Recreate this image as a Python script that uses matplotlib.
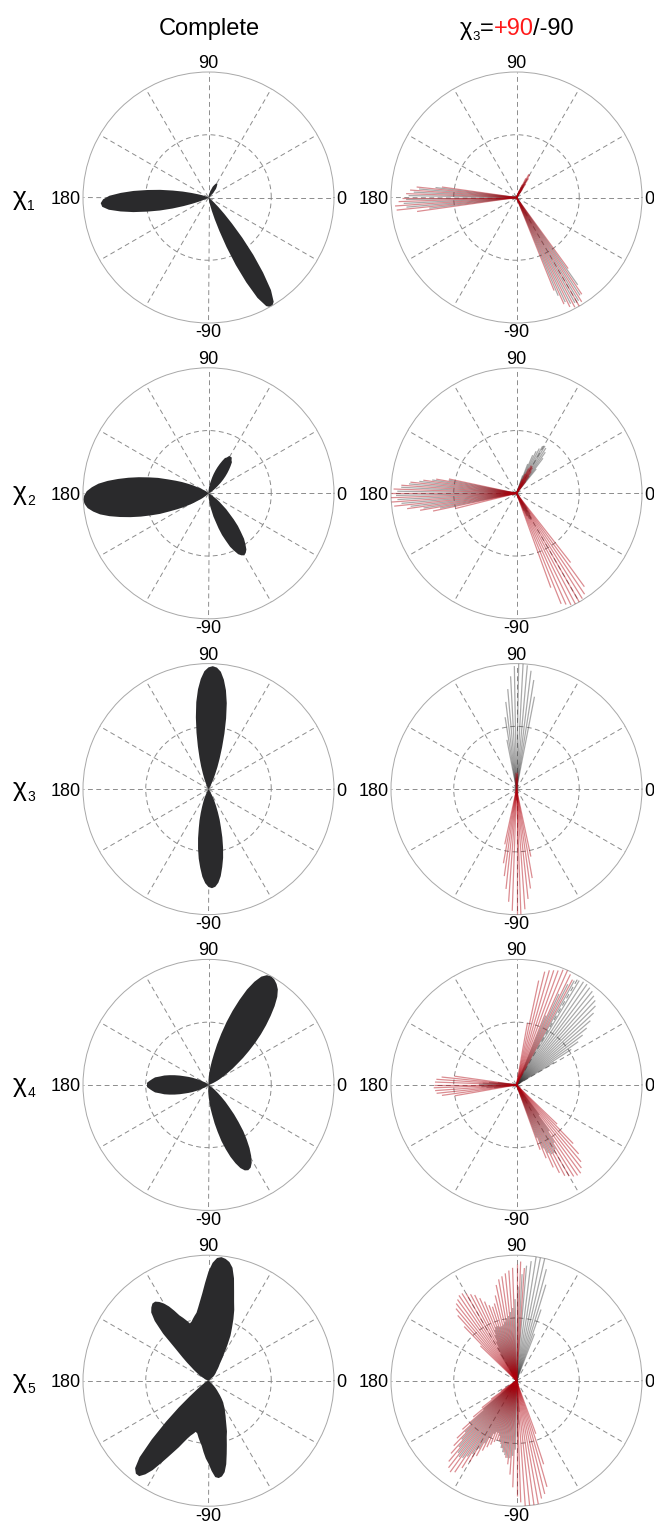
import numpy as np
import matplotlib.pyplot as plt

plt.rcParams['font.family'] = ['Liberation Sans', 'DejaVu Sans']
plt.rcParams['lines.scale_dashes'] = False

W, H = 654, 1523
STEP = 2  # degrees between samples / spokes

# ---- data: (start angle in deg, radii every STEP deg), radius 1 = outer ring ----
# left column, "Complete" distributions
chi1_complete = [
    (157, [0.02, 0.04, 0.06, 0.09, 0.14, 0.21, 0.29, 0.39, 0.49, 0.60, 0.70, 0.79, 0.84, 0.86,
           0.85, 0.80, 0.71, 0.61, 0.50, 0.40, 0.30, 0.21, 0.14, 0.09, 0.06, 0.04, 0.02]),
    (35, [0.01, 0.02, 0.03, 0.03, 0.05, 0.06, 0.07, 0.09, 0.10, 0.11, 0.12, 0.13, 0.13,
          0.13, 0.12, 0.11, 0.10, 0.09, 0.07, 0.06, 0.05, 0.03, 0.03, 0.02, 0.01]),
    (278, [0.01, 0.03, 0.06, 0.11, 0.18, 0.28, 0.42, 0.58, 0.74, 0.89, 0.98, 1.01,
           0.98, 0.89, 0.74, 0.58, 0.42, 0.28, 0.18, 0.11, 0.06, 0.03, 0.01]),
]
chi2_complete = [
    (143, [0.03, 0.04, 0.06, 0.08, 0.10, 0.14, 0.18, 0.23, 0.28, 0.34, 0.42, 0.49, 0.57, 0.65,
           0.73, 0.81, 0.88, 0.93, 0.97, 0.99, 1.00, 0.99, 0.97, 0.93, 0.88, 0.81, 0.73, 0.65,
           0.57, 0.49, 0.42, 0.34, 0.28, 0.23, 0.18, 0.14, 0.10, 0.08, 0.06, 0.04, 0.03]),
    (29, [0.02, 0.03, 0.05, 0.06, 0.08, 0.10, 0.13, 0.16, 0.19, 0.22, 0.25, 0.28, 0.31, 0.32,
          0.34, 0.34, 0.34, 0.32, 0.31, 0.28, 0.25, 0.22, 0.19, 0.16, 0.13, 0.10, 0.08, 0.06,
          0.05, 0.03, 0.02]),
    (272, [0.04, 0.05, 0.08, 0.11, 0.14, 0.19, 0.23, 0.29, 0.35, 0.40, 0.46, 0.50, 0.54, 0.56,
           0.57, 0.56, 0.54, 0.50, 0.46, 0.40, 0.35, 0.29, 0.23, 0.19, 0.14, 0.11, 0.08, 0.05,
           0.04]),
]
chi3_complete = [
    (58, [0.02, 0.04, 0.06, 0.09, 0.13, 0.19, 0.26, 0.35, 0.46, 0.58, 0.70, 0.80, 0.88, 0.94,
          0.97, 0.98, 0.97, 0.94, 0.88, 0.80, 0.70, 0.58, 0.46, 0.35, 0.26, 0.19, 0.13, 0.09,
          0.06, 0.04, 0.02]),
    (244, [0.05, 0.08, 0.11, 0.15, 0.20, 0.26, 0.32, 0.40, 0.48, 0.56, 0.63, 0.70, 0.75, 0.78,
           0.79, 0.78, 0.75, 0.70, 0.63, 0.56, 0.48, 0.40, 0.32, 0.26, 0.20, 0.15, 0.11, 0.08,
           0.05]),
]
chi4_complete = [
    (22, [0.04, 0.06, 0.08, 0.11, 0.14, 0.18, 0.23, 0.28, 0.35, 0.42, 0.50, 0.58, 0.66, 0.74,
          0.82, 0.89, 0.94, 0.97, 0.99, 1.00, 0.99, 0.96, 0.90, 0.82, 0.72, 0.62, 0.52, 0.42,
          0.33, 0.25, 0.19, 0.14, 0.10, 0.07, 0.04]),
    (142, [0.02, 0.03, 0.04, 0.05, 0.07, 0.09, 0.11, 0.14, 0.17, 0.20, 0.24, 0.28, 0.32, 0.36,
           0.39, 0.43, 0.45, 0.47, 0.49, 0.49, 0.49, 0.47, 0.45, 0.43, 0.39, 0.36, 0.32, 0.28,
           0.24, 0.20, 0.17, 0.14, 0.11, 0.09, 0.07, 0.05, 0.04, 0.03, 0.02]),
    (267, [0.05, 0.07, 0.10, 0.14, 0.19, 0.24, 0.31, 0.38, 0.46, 0.53, 0.60, 0.66, 0.71, 0.74,
           0.75, 0.74, 0.71, 0.66, 0.60, 0.53, 0.46, 0.38, 0.31, 0.24, 0.19, 0.14, 0.10, 0.07,
           0.05]),
]
chi5_complete = [
    (40, [0.05, 0.06, 0.07, 0.08, 0.09, 0.10, 0.12, 0.14, 0.16, 0.20, 0.25, 0.32, 0.40, 0.46,
          0.53, 0.60, 0.66, 0.74, 0.84, 0.92, 0.96, 0.98, 0.99, 0.98, 0.94, 0.87, 0.78, 0.70,
          0.64, 0.59, 0.55, 0.53, 0.51, 0.49, 0.48, 0.51, 0.54, 0.57, 0.62, 0.67, 0.71, 0.74,
          0.76, 0.76, 0.74, 0.71, 0.64, 0.52, 0.36, 0.28, 0.22, 0.17, 0.14, 0.11, 0.09, 0.07,
          0.05, 0.03, 0.02]),
    (200, [0.01, 0.015, 0.02, 0.025, 0.03, 0.04, 0.05, 0.07, 0.09, 0.13, 0.20, 0.32, 0.47, 0.65,
           0.82, 0.91, 0.94, 0.94, 0.90, 0.84, 0.76, 0.69, 0.63, 0.58, 0.53, 0.49, 0.46, 0.44,
           0.42, 0.43, 0.46, 0.49, 0.52, 0.57, 0.62, 0.66, 0.72, 0.77, 0.78, 0.77, 0.74, 0.68,
           0.60, 0.53, 0.47, 0.43, 0.38, 0.34, 0.31, 0.28, 0.26, 0.23, 0.21, 0.18, 0.15, 0.12,
           0.10, 0.08, 0.06, 0.04, 0.03]),
]

# right column, chi3 = +90 (red spokes) and chi3 = -90 (grey spokes)
chi1_plus90 = [(172, [0.60, 0.80, 0.85, 0.88, 0.91, 0.94, 0.97, 0.96, 0.80]),
               (54, [0.08, 0.13, 0.18, 0.21, 0.21, 0.17, 0.11, 0.06]),
               (292, [0.80, 0.93, 0.97, 0.99, 1.00, 0.98, 0.93, 0.70])]
chi1_minus90 = [(173, [0.65, 0.78, 0.82, 0.86, 0.88, 0.90, 0.88, 0.70]),
                (55, [0.06, 0.10, 0.13, 0.14, 0.12, 0.09, 0.05]),
                (293, [0.85, 0.92, 0.95, 0.96, 0.96, 0.93, 0.85])]
chi2_plus90 = [(168, [0.55, 0.65, 0.75, 0.85, 0.92, 0.98, 1.00, 1.00, 1.00, 0.98, 0.88, 0.78, 0.68, 0.50]),
               (52, [0.12, 0.17, 0.21, 0.24, 0.25, 0.25, 0.22, 0.17, 0.12]),
               (290, [0.80, 0.95, 0.97, 0.99, 1.00, 1.00, 0.99, 0.97, 0.92, 0.70])]
chi2_minus90 = [(169, [0.55, 0.68, 0.78, 0.86, 0.92, 0.95, 0.96, 0.95, 0.92, 0.85, 0.75, 0.62]),
                (51, [0.25, 0.35, 0.40, 0.43, 0.44, 0.43, 0.40, 0.37, 0.33, 0.25, 0.15]),
                (293, [0.15, 0.20, 0.23, 0.24, 0.23, 0.20, 0.15])]
chi3_plus90 = [(86, [0.08, 0.12, 0.14, 0.13, 0.09]),
               (258, [0.45, 0.60, 0.70, 0.80, 0.90, 0.97, 1.00, 1.00, 0.96, 0.88, 0.80, 0.72, 0.55])]
chi3_minus90 = [(79, [0.75, 0.88, 0.95, 0.99, 1.00, 1.00, 0.98, 0.90, 0.80, 0.70, 0.58, 0.40]),
                (267, [0.06, 0.09, 0.09, 0.06])]
chi4_plus90 = [(62, [0.95, 0.98, 1.00, 0.99, 0.97, 0.96, 0.95, 0.93, 0.85, 0.50]),
               (172, [0.50, 0.60, 0.64, 0.65, 0.66, 0.66, 0.65, 0.64, 0.60, 0.50]),
               (290, [0.55, 0.63, 0.72, 0.78, 0.82, 0.84, 0.86, 0.87, 0.87, 0.84, 0.80, 0.74, 0.65, 0.45])]
chi4_minus90 = [(31, [0.35, 0.52, 0.60, 0.66, 0.72, 0.78, 0.84, 0.89, 0.92, 0.94, 0.96, 0.97, 0.98,
                      0.98, 0.97, 0.95, 0.90, 0.80, 0.60]),
                (173, [0.15, 0.22, 0.27, 0.30, 0.30, 0.28, 0.24, 0.18]),
                (291, [0.45, 0.55, 0.60, 0.62, 0.62, 0.60, 0.55, 0.45, 0.30])]
chi5_plus90 = [(86, [0.90, 0.95, 0.93, 0.90, 0.88, 0.86, 0.84, 0.82, 0.78, 0.70, 0.64, 0.62, 0.64,
                     0.68, 0.72, 0.76, 0.78, 0.80, 0.82, 0.82, 0.80, 0.78, 0.75, 0.70, 0.60, 0.40]),
               (214, [0.15, 0.25, 0.35, 0.45, 0.58, 0.66, 0.72, 0.78, 0.84, 0.88, 0.90, 0.88, 0.82,
                      0.75, 0.68, 0.62, 0.58, 0.55, 0.52, 0.50, 0.50, 0.52, 0.55, 0.58, 0.62, 0.67,
                      0.75, 0.85, 0.92, 0.97, 1.00, 1.02, 1.02, 1.00, 0.96, 0.93, 0.88, 0.70, 0.45])]
chi5_minus90 = [(69, [0.40, 0.60, 0.80, 0.92, 1.00, 1.00, 1.00, 0.96, 0.92, 0.85, 0.75, 0.65, 0.58,
                      0.55, 0.52, 0.50, 0.48, 0.46, 0.45, 0.45, 0.46, 0.46, 0.44, 0.40, 0.35, 0.30,
                      0.25]),
                (221, [0.35, 0.50, 0.58, 0.64, 0.70, 0.74, 0.76, 0.75, 0.72, 0.68, 0.62, 0.56, 0.50,
                       0.46, 0.44, 0.44, 0.46, 0.50, 0.55, 0.58, 0.60, 0.62, 0.62, 0.60, 0.55, 0.45,
                       0.35, 0.25])]

rows = [
    ('1', chi1_complete, chi1_plus90, chi1_minus90),
    ('2', chi2_complete, chi2_plus90, chi2_minus90),
    ('3', chi3_complete, chi3_plus90, chi3_minus90),
    ('4', chi4_complete, chi4_plus90, chi4_minus90),
    ('5', chi5_complete, chi5_plus90, chi5_minus90),
]

FILL = '#2a2a2c'
RED = '#b0000c'
GREY = '#333333'

fig = plt.figure(figsize=(W / 100, H / 100), dpi=100)
renderer = fig.canvas.get_renderer()
R = 125.5
COL_X = [208.5, 516.5]
ROW_Y = [197.5, 493.3, 789.1, 1084.9, 1380.7]


def make_polar(cx, cy):
    ax = fig.add_axes([(cx - R) / W, 1 - (cy + R) / H, 2 * R / W, 2 * R / H], projection='polar')
    ax.set_ylim(0, 1)
    ax.set_xticks(np.deg2rad(np.arange(0, 360, 30)))
    ax.set_xticklabels([])
    ax.set_yticks([0.5])
    ax.set_yticklabels([])
    ax.grid(True, color='#8c8c8c', linewidth=0.7, linestyle=(0, (3.5, 2.5)))
    ax.spines['polar'].set_color('#a8a8a8')
    ax.spines['polar'].set_linewidth(0.7)
    for ang, lab, ha, va, off in [(90, '90', 'center', 'bottom', (0, 0)),
                                  (270, '-90', 'center', 'top', (0, -1)),
                                  (180, '180', 'right', 'center_baseline', (-1.5, 0)),
                                  (0, '0', 'left', 'center_baseline', (1.5, 0))]:
        ax.annotate(lab, (np.deg2rad(ang), 1.0), xytext=off, textcoords='offset points',
                    ha=ha, va=va, fontsize=13, annotation_clip=False)
    return ax


def spokes(ax, lobes, color, alpha):
    for start, lengths in lobes:
        ang = np.deg2rad(start + STEP * np.arange(len(lengths)))
        ax.vlines(ang, 0, lengths, colors=color, linewidth=0.9, alpha=alpha, zorder=3)


for i, (sub, complete, plus90, minus90) in enumerate(rows):
    cy = ROW_Y[i]
    ax = make_polar(COL_X[0], cy)
    for start, radii in complete:
        ang = start + STEP * np.arange(len(radii))
        th = np.deg2rad(np.concatenate([[ang[0]], ang, [ang[-1]]]))
        rr = np.concatenate([[0], radii, [0]])
        ax.fill(th, rr, color=FILL, lw=0, zorder=2)

    ax = make_polar(COL_X[1], cy)
    spokes(ax, minus90, GREY, 0.42)
    spokes(ax, plus90, RED, 0.45)

    # row label chi_n
    chi = fig.text(13 / W, 1 - (cy + 7) / H, 'χ', fontsize=19, ha='left', va='baseline')
    w = chi.get_window_extent(renderer).width
    fig.text((13 + w + 0.5) / W, 1 - (cy + 12) / H, sub, fontsize=10, ha='left', va='baseline')

# column titles
fig.text(209 / W, 1 - 35 / H, 'Complete', fontsize=17, ha='center', va='baseline')

pieces = [('χ', 17, 'black', 0), ('3', 9.5, 'black', 5), ('=', 17, 'black', 0),
          ('+90', 17, '#ff1a1a', 0), ('/-90', 17, 'black', 0)]
objs = []
for s, fs, c, dy in pieces:
    objs.append(fig.text(0, 1 - (35 + dy) / H, s, fontsize=fs, color=c, ha='left', va='baseline'))
widths = [o.get_window_extent(renderer).width for o in objs]
x = 517 - sum(widths) / 2
for o, w in zip(objs, widths):
    o.set_x(x / W)
    x += w

fig.savefig('out.png', dpi=100)
